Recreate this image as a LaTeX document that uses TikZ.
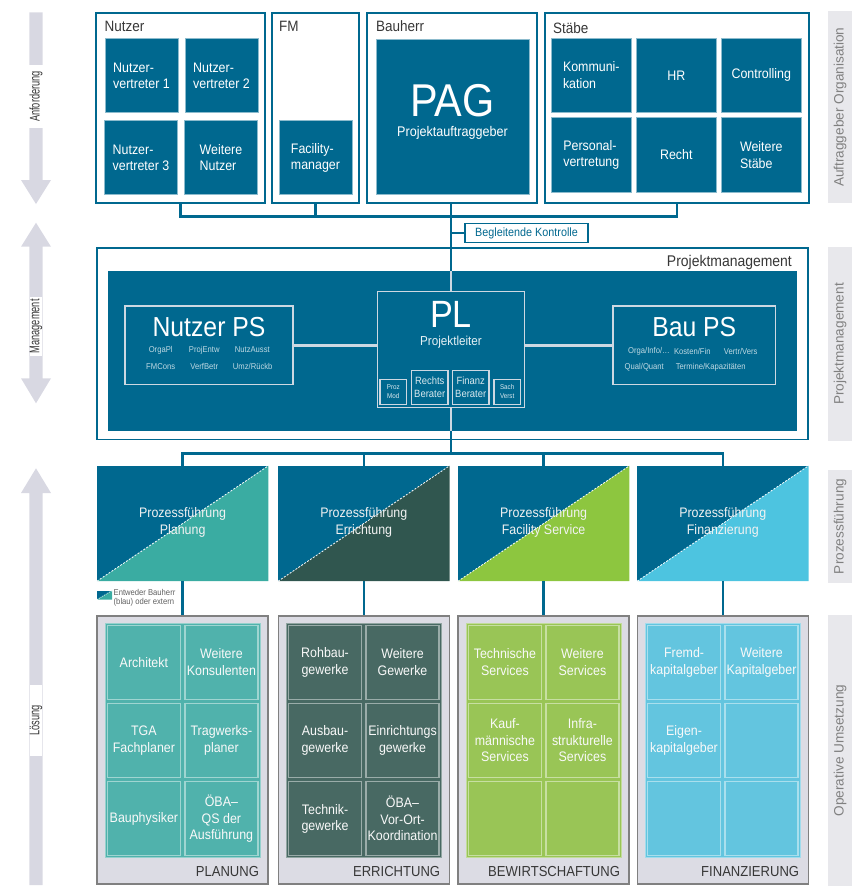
\documentclass[tikz,border=0pt]{standalone}
\usepackage{fontspec}
\setmainfont[FakeStretch=0.9]{Liberation Sans}
\newfontfamily\sidefont{Liberation Sans}
\newfontfamily\narrowfont[FakeStretch=0.66]{Liberation Sans}
\usetikzlibrary{calc}
\definecolor{pblue}{RGB}{0,104,143}
\definecolor{plan}{RGB}{58,172,162}
\definecolor{plancell}{RGB}{80,178,172}
\definecolor{erri}{RGB}{48,86,79}
\definecolor{erricell}{RGB}{72,105,99}
\definecolor{bewi}{RGB}{141,198,63}
\definecolor{bewicell}{RGB}{153,197,86}
\definecolor{fina}{RGB}{77,196,224}
\definecolor{finacell}{RGB}{99,197,223}
\definecolor{paleline}{RGB}{205,216,226}
\definecolor{arrowgray}{RGB}{216,216,226}
\definecolor{sidegray}{RGB}{232,232,236}
\definecolor{framegray}{RGB}{220,220,228}
\definecolor{ink}{RGB}{55,55,55}
\newcommand{\fsz}[2]{\fontsize{#1}{#2}\selectfont}
\tikzset{
  grp/.style 2 args={draw=pblue, line width=1.6, fill=white, minimum width=#1, minimum height=#2, inner sep=0pt},
  grplbl/.style={anchor=base west, text=ink, font={\fsz{15}{18}}, inner sep=0pt},
  cell/.style={fill=pblue, draw=white!55!pblue, line width=0.8, text=white, align=left, font={\fsz{13.8}{16.5}}, inner sep=0pt, minimum width=73, minimum height=74},
  bus/.style={draw=pblue, line width=2.5},
  paleconn/.style={draw=paleline, line width=3},
  psbox/.style={draw=paleline, line width=1.5, inner sep=0pt},
  pstitle/.style={text=white, font={\fsz{27.5}{30}}, inner sep=0pt},
  psitem/.style={text=white!75!pblue, font={\fsz{8.5}{10}}, inner sep=0pt},
  berater/.style={draw=paleline, line width=1.2, text=white!85!pblue, align=center, inner sep=0pt},
  pfbox/.style={fill=pblue, minimum width=171, minimum height=115, inner sep=0pt},
  pftext/.style={text=white!90!gray, align=center, font={\fsz{13.8}{17}}, inner sep=0pt},
  frame/.style={fill=framegray, draw=gray, line width=1.5, minimum width=171, minimum height=268, inner sep=0pt},
  panel/.style={fill=#1, draw=white!40!#1, line width=1, minimum width=155, minimum height=234, inner sep=0pt},
  opcell/.style={fill=#1, draw=white!45!#1, line width=1.2, minimum width=73, minimum height=74, text=white!95!gray, align=center, font={\fsz{13.8}{16.5}}, inner sep=0pt},
  oplbl/.style={anchor=base east, text=ink, font={\fsz{14.5}{17}}, inner sep=0pt},
  sidebar/.style={rotate=90, fill=sidegray, minimum height=24, inner sep=0pt, text=gray, font={\sidefont\fsz{13.6}{16}}},
  arrowtxt/.style={rotate=90, fill=white, text=ink, font={\narrowfont\fsz{14}{16}}, inner sep=0pt}
}
\begin{document}
\begin{tikzpicture}[x=1pt,y=-1pt]
  \useasboundingbox (0,0) rectangle (852,888);
  % left arrows
  \fill[arrowgray] (29.3,12.3) -- (42.7,12.3) -- (42.7,180) -- (51,180) -- (36,204) -- (21,180) -- (29.3,180) -- cycle;
  \fill[arrowgray] (36,222.7) -- (51,246.7) -- (42.7,246.7) -- (42.7,378.3) -- (51,378.3) -- (36,403.3) -- (21,378.3) -- (29.3,378.3) -- (29.3,246.7) -- (21,246.7) -- cycle;
  \fill[arrowgray] (36,468.3) -- (51,493) -- (42.7,493) -- (42.7,885) -- (29.3,885) -- (29.3,493) -- (21,493) -- cycle;
  \node[arrowtxt, minimum width=63] (anf) at (36,96.5) {Anforderung};
  \node[arrowtxt, minimum width=59] (mgmt) at (36,326.3) {Management};
  \node[arrowtxt, minimum width=71] (loes) at (36,720.5) {Lösung};
  % side bars
  \node[sidebar, minimum width=192] (orgBar) at (840,107.2) {Auftraggeber Organisation};
  \node[sidebar, minimum width=194] (pmBar) at (840,344) {Projektmanagement};
  \node[sidebar, minimum width=113] (pfBar) at (840,526.4) {Prozessführung};
  \node[sidebar, minimum width=271] (opBar) at (840,750.5) {Operative Umsetzung};
  % Auftraggeber
  \node[grp={169}{190}] (nutzerGrp) at (180.5,108) {};
  \node[grplbl] (nutzerLbl) at (104.5,31.7) {Nutzer};
  \node[cell] (nv1) at (141.5,75.75) {Nutzer-\\vertreter 1};
  \node[cell] (nv2) at (221.5,75.75) {Nutzer-\\vertreter 2};
  \node[cell] (nv3) at (141,157.75) {Nutzer-\\vertreter 3};
  \node[cell] (nvWeitere) at (221,157.75) {Weitere\\Nutzer};
  \node[grp={87}{190}] (fmGrp) at (315.5,108) {};
  \node[grplbl] (fmLbl) at (279,31.7) {FM};
  \node[cell] (facility) at (315.5,157.75) {Facility-\\manager};
  \node[grp={170}{190}] (bauherrGrp) at (452,108) {};
  \node[grplbl] (bauherrLbl) at (376,31.7) {Bauherr};
  \node[cell, minimum width=153, minimum height=155] (pag) at (452.5,116.5) {};
  \node[text=white, font={\fsz{46}{46}}, inner sep=0pt] (pagTitle) at (452.5,101) {PAG};
  \node[text=white, font={\fsz{14}{16}}, inner sep=0pt] (pagSub) at (452.5,132.5) {Projektauftraggeber};
  \node[grp={264}{190}] (staebeGrp) at (677,108) {};
  \node[grplbl] (staebeLbl) at (553,34) {Stäbe};
  \foreach \n/\x/\y/\t in {komm/591.3/75.3/{Kommuni-\\kation}, hr/676.3/75.3/HR, ctrl/761.3/75.3/Controlling,
      pers/591.3/154.9/{Personal-\\vertretung}, recht/676.3/154.9/Recht, weitereSt/761.3/154.9/{Weitere\\Stäbe}}
    \node[cell, minimum width=80] (\n) at (\x,\y) {\t};
  % Projektmanagement
  \node[draw=pblue, line width=1.8, fill=white, minimum width=711, minimum height=191.5, inner sep=0pt] (pmOuter) at (452.5,343.75) {};
  \node[anchor=base east, text=ink, font={\fsz{15.5}{18}}, inner sep=0pt] (pmLbl) at (792,266) {Projektmanagement};
  \node[fill=pblue, minimum width=689, minimum height=159.5, inner sep=0pt] (pmInner) at (452,350.75) {};
  \node[psbox, minimum width=168, minimum height=78.5] (nutzerPS) at (209,345.25) {};
  \node[pstitle] (nutzerPSTitle) at (209,327.5) {Nutzer PS};
  \foreach \x/\y/\t [count=\i] in {160.7/350/OrgaPl, 204.3/350/ProjEntw, 252.3/350/NutzAusst,
      160.7/366.7/FMCons, 204.3/366.7/VerfBetr, 252.7/366.7/{Umz/Rückb}}
    \node[psitem] (nps\i) at (\x,\y) {\t};
  \node[psbox, minimum width=146.6, minimum height=115.6] (pl) at (451,349.5) {};
  \node[text=white, font={\fsz{38}{40}}, inner sep=0pt] (plTitle) at (451,314.7) {PL};
  \node[text=white!90!pblue, font={\fsz{13}{15}}, inner sep=0pt] (plSub) at (451,341.7) {Projektleiter};
  \node[berater, minimum width=26.7, minimum height=25, font={\fsz{7}{9.3}}] (prozMod) at (393.3,391.8) {Proz\\Mod};
  \node[berater, minimum width=36.7, minimum height=34, font={\fsz{10.5}{12.7}}] (rechts) at (429.7,387.3) {Rechts\\Berater};
  \node[berater, minimum width=36.7, minimum height=34, font={\fsz{10.5}{12.7}}] (finanz) at (470.7,387.3) {Finanz\\Berater};
  \node[berater, minimum width=26.3, minimum height=25, font={\fsz{7}{9.3}}] (sach) at (507.2,391.8) {Sach\\Verst};
  \node[psbox, minimum width=162.7, minimum height=78.7] (bauPS) at (694.3,345.3) {};
  \node[pstitle] (bauPSTitle) at (694.3,327.5) {Bau PS};
  \foreach \x/\y/\t [count=\i] in {649/351/{Orga/Info/\dots}, 692.3/351/{Kosten/Fin}, 740.7/351/{Vertr/Vers},
      644.3/367.7/{Qual/Quant}, 710.7/367.7/{Termine/Kapazitäten}}
    \node[psitem] (bps\i) at (\x,\y) {\t};
  \draw[paleconn] (nutzerPS.east) -- (nutzerPS.east -| pl.west);
  \draw[paleconn] (pl.east |- bauPS.west) -- (bauPS.west);
  % Prozessfuehrung and operative Umsetzung
  \foreach \n/\x/\c/\cc/\t/\lbl in {Plan/182.65/plan/plancell/Planung/PLANUNG, Erri/363.8/erri/erricell/Errichtung/ERRICHTUNG,
      Bewi/543.65/bewi/bewicell/Facility Service/BEWIRTSCHAFTUNG, Fina/722.8/fina/finacell/Finanzierung/FINANZIERUNG} {
    \node[pfbox] (pf\n) at (\x,523.5) {};
    \fill[\c] (pf\n.south west) -- (pf\n.south east) -- (pf\n.north east) -- cycle;
    \draw[white, line width=0.8, dash pattern=on 2pt off 1.5pt] (pf\n.south west) -- (pf\n.north east);
    \node[pftext] (pfl\n) at (\x,522.5) {Prozessführung\\\t};
    \node[frame] (op\n) at (\x,749.85) {};
    \node[panel=\cc] (pan\n) at (\x,740.5) {};
    \node[oplbl] (opl\n) at (\x+76.5,876.7) {\lbl};
  }
  \foreach \t [count=\i from 0] in {Architekt, {Weitere\\Konsulenten}, {TGA\\Fachplaner}, {Tragwerks-\\planer}, Bauphysiker, {ÖBA–\\QS der\\Ausführung}} {
    \pgfmathsetmacro\cx{182.65+77.5*(mod(\i,2)-0.5)}
    \pgfmathsetmacro\cy{662.3+78.2*int(\i/2)}
    \node[opcell=plancell] (cPlan\i) at (\cx,\cy) {\t};
  }
  \foreach \t [count=\i from 0] in {{Rohbau-\\gewerke}, {Weitere\\Gewerke}, {Ausbau-\\gewerke}, {Einrichtungs\\gewerke}, {Technik-\\gewerke}, {ÖBA–\\Vor-Ort-\\Koordination}} {
    \pgfmathsetmacro\cx{363.8+77.5*(mod(\i,2)-0.5)}
    \pgfmathsetmacro\cy{662.3+78.2*int(\i/2)}
    \node[opcell=erricell] (cErri\i) at (\cx,\cy) {\t};
  }
  \foreach \t [count=\i from 0] in {{Technische\\Services}, {Weitere\\Services}, {Kauf-\\männische\\Services}, {Infra-\\strukturelle\\Services}, {}, {}} {
    \pgfmathsetmacro\cx{543.65+77.5*(mod(\i,2)-0.5)}
    \pgfmathsetmacro\cy{662.3+78.2*int(\i/2)}
    \node[opcell=bewicell] (cBewi\i) at (\cx,\cy) {\t};
  }
  \foreach \t [count=\i from 0] in {{Fremd-\\kapitalgeber}, {Weitere\\Kapitalgeber}, {Eigen-\\kapitalgeber}, {}, {}, {}} {
    \pgfmathsetmacro\cx{722.8+77.5*(mod(\i,2)-0.5)}
    \pgfmathsetmacro\cy{662.3+78.2*int(\i/2)}
    \node[opcell=finacell] (cFina\i) at (\cx,\cy) {\t};
  }
  % legend
  \node[fill=pblue, minimum width=14.7, minimum height=8.6, inner sep=0pt] (legendKey) at (104.65,595) {};
  \fill[plan] (legendKey.south west) -- (legendKey.south east) -- (legendKey.north east) -- cycle;
  \draw[white, line width=0.6, dash pattern=on 1pt off 1pt] (legendKey.south west) -- (legendKey.north east);
  \node[anchor=north west, align=left, text=ink!80, font={\fsz{8.5}{8.7}}, inner sep=0pt] (legendTxt) at (113.5,589.5) {Entweder Bauherr\\(blau) oder extern};
  % connectors
  \coordinate (busTop) at (451,216.5);
  \coordinate (busMid) at (451,453.3);
  \draw[bus] (nutzerGrp.south) |- (busTop) -| (staebeGrp.south);
  \draw[bus] (fmGrp.south) -- (fmGrp.south |- busTop);
  \draw[bus] (pl.north |- bauherrGrp.south) -- (pl.north |- pmInner.north);
  \draw[paleconn, line width=2] (pl.north |- pmInner.north) -- (pl.north);
  \node[draw=pblue, line width=1.2, fill=white, text=pblue, font={\fsz{12}{14}}, minimum width=123, minimum height=19.5, inner sep=0pt] (kontrolle) at (526.5,233) {Begleitende Kontrolle};
  \draw[bus] (kontrolle.west) -- (kontrolle.west -| pl.north);
  \draw[paleconn, line width=2] (pl.south) -- (pl.south |- pmInner.south);
  \draw[bus] (pl.south |- pmInner.south) -- (busMid);
  \draw[bus] (pfPlan.north) |- (busMid) -| (pfFina.north);
  \draw[bus] (pfErri.north) -- (pfErri.north |- busMid);
  \draw[bus] (pfBewi.north) -- (pfBewi.north |- busMid);
  \foreach \n in {Plan,Erri,Bewi,Fina}
    \draw[bus] (pf\n.south) -- (op\n.north);
\end{tikzpicture}
\end{document}
